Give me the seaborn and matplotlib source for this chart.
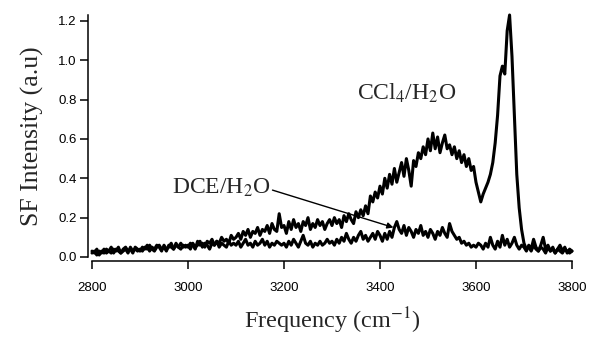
import numpy as np
import pandas as pd
import matplotlib
matplotlib.use("Agg")
import matplotlib.pyplot as plt
import seaborn as sns

# Frequency grid (cm-1), 5 cm-1 steps
freq = list(range(2800, 3801, 5))

# SF intensity, CCl4/H2O interface
ccl4 = [
    0.02, 0.03, 0.01, 0.03, 0.02, 0.04, 0.02, 0.03, 0.05, 0.02, 0.04, 0.03, 0.02, 0.04, 0.05, 0.03, 0.04, 0.02, 0.05, 0.04,
    0.03, 0.05, 0.04, 0.06, 0.03, 0.05, 0.04, 0.06, 0.05, 0.03, 0.06, 0.04, 0.05, 0.07, 0.04, 0.06, 0.05, 0.07, 0.05, 0.06,
    0.05, 0.07, 0.06, 0.04, 0.08, 0.06, 0.07, 0.05, 0.08, 0.07, 0.09, 0.06, 0.08, 0.07, 0.10, 0.08, 0.09, 0.07, 0.11, 0.09,
    0.10, 0.12, 0.09, 0.13, 0.11, 0.14, 0.10, 0.13, 0.12, 0.15, 0.11, 0.14, 0.13, 0.16, 0.12, 0.17, 0.14, 0.13, 0.22, 0.15,
    0.16, 0.12, 0.18, 0.14, 0.19, 0.15, 0.17, 0.13, 0.18, 0.16, 0.20, 0.14, 0.17, 0.15, 0.19, 0.16, 0.18, 0.14, 0.17, 0.19,
    0.16, 0.20, 0.17, 0.19, 0.15, 0.21, 0.18, 0.22, 0.19, 0.17, 0.23, 0.20, 0.24, 0.21, 0.26, 0.22, 0.31, 0.28, 0.33, 0.30,
    0.36, 0.32, 0.40, 0.35, 0.42, 0.37, 0.45, 0.38, 0.43, 0.48, 0.41, 0.50, 0.44, 0.36, 0.49, 0.46, 0.53, 0.50, 0.56, 0.52,
    0.60, 0.54, 0.63, 0.55, 0.61, 0.53, 0.58, 0.62, 0.55, 0.57, 0.52, 0.56, 0.50, 0.54, 0.48, 0.52, 0.46, 0.50, 0.44, 0.46,
    0.38, 0.33, 0.28, 0.32, 0.35, 0.38, 0.42, 0.48, 0.58, 0.72, 0.92, 0.97, 0.93, 1.15, 1.23, 1.02, 0.72, 0.42, 0.25, 0.14,
    0.07, 0.04, 0.05, 0.03, 0.06, 0.04, 0.03, 0.05, 0.04, 0.02, 0.05, 0.03, 0.04, 0.02, 0.04, 0.03, 0.02, 0.04, 0.03, 0.02,
    0.03,
]

# SF intensity, DCE/H2O interface
dce = [
    0.03, 0.02, 0.04, 0.01, 0.03, 0.02, 0.04, 0.03, 0.02, 0.04, 0.03, 0.05, 0.02, 0.03, 0.04, 0.02, 0.05, 0.03, 0.04, 0.03,
    0.04, 0.03, 0.05, 0.04, 0.06, 0.04, 0.03, 0.05, 0.06, 0.04, 0.05, 0.03, 0.06, 0.05, 0.04, 0.07, 0.05, 0.04, 0.06, 0.05,
    0.06, 0.04, 0.07, 0.05, 0.06, 0.08, 0.05, 0.07, 0.06, 0.04, 0.07, 0.06, 0.08, 0.05, 0.07, 0.06, 0.05, 0.08, 0.06, 0.07,
    0.06, 0.08, 0.05, 0.07, 0.09, 0.06, 0.07, 0.05, 0.08, 0.06, 0.07, 0.09, 0.06, 0.08, 0.05, 0.07, 0.06, 0.08, 0.07, 0.06,
    0.07, 0.05, 0.08, 0.06, 0.09, 0.07, 0.05, 0.08, 0.11, 0.07, 0.06, 0.08, 0.05, 0.07, 0.06, 0.08, 0.06, 0.07, 0.09, 0.07,
    0.08, 0.06, 0.09, 0.07, 0.10, 0.08, 0.12, 0.09, 0.07, 0.10, 0.08, 0.11, 0.13, 0.09, 0.11, 0.08, 0.10, 0.12, 0.09, 0.13,
    0.11, 0.08, 0.12, 0.09, 0.13, 0.10, 0.15, 0.18, 0.14, 0.12, 0.16, 0.11, 0.15, 0.13, 0.10, 0.14, 0.12, 0.16, 0.11, 0.13,
    0.10, 0.14, 0.12, 0.09, 0.13, 0.11, 0.15, 0.12, 0.10, 0.17, 0.13, 0.11, 0.09, 0.10, 0.07, 0.08, 0.06, 0.07, 0.05, 0.06,
    0.05, 0.07, 0.06, 0.04, 0.07, 0.05, 0.10, 0.06, 0.04, 0.08, 0.05, 0.11, 0.06, 0.09, 0.05, 0.07, 0.10, 0.06, 0.04, 0.06,
    0.05, 0.03, 0.06, 0.04, 0.09, 0.05, 0.03, 0.06, 0.10, 0.04, 0.06, 0.03, 0.05, 0.02, 0.04, 0.06, 0.03, 0.05, 0.02, 0.04,
    0.03,
]

x_ticks = [2800, 3000, 3200, 3400, 3600, 3800]
y_ticks = [0.0, 0.2, 0.4, 0.6, 0.8, 1.0, 1.2]

assert len(ccl4) == len(freq) and len(dce) == len(freq)

df = pd.DataFrame({
    "freq": freq * 2,
    "intensity": ccl4 + dce,
    "system": ["CCl4"] * len(freq) + ["DCE"] * len(freq),
})

sns.set_style("ticks")
plt.rcParams["font.family"] = ["Liberation Sans", "DejaVu Sans"]
plt.rcParams["mathtext.fontset"] = "stix"

fig = plt.figure(figsize=(5.89, 3.37), dpi=100)
ax = fig.add_axes([0.1562, 0.2374, 0.8149, 0.7181])

sns.lineplot(
    data=df, x="freq", y="intensity", units="system", estimator=None,
    color="black", linewidth=2.2, ax=ax, legend=False,
)
for line in ax.lines:
    line.set_clip_on(False)

ax.set_xlim(2800, 3800)
ax.set_ylim(0, 1.23)
ax.set_xticks(x_ticks)
ax.set_yticks(y_ticks)
ax.set_xticklabels([str(t) for t in x_ticks])
ax.set_yticklabels([f"{t:.1f}" for t in y_ticks])

for side in ("top", "right"):
    ax.spines[side].set_visible(False)
ax.spines["left"].set_position(("outward", 3))
ax.spines["bottom"].set_position(("outward", 3))
for side in ("left", "bottom"):
    ax.spines[side].set_linewidth(1.1)
    ax.spines[side].set_color("black")
ax.tick_params(axis="both", direction="out", length=6, width=1.1,
               color="black", labelsize=9.5, labelcolor="black")
ax.tick_params(axis="x", pad=9)
ax.tick_params(axis="y", pad=2)

serif = ["Liberation Serif", "DejaVu Serif"]
ax.set_xlabel("Frequency (cm$^{-1}$)", fontsize=17.5, family=serif, labelpad=8)
ax.set_ylabel("SF Intensity (a.u)", fontsize=18.5, family=serif, labelpad=10)

ax.text(3455, 0.83, "CCl$_4$/H$_2$O", fontsize=17, family=serif,
        ha="center", va="center")
ax.text(3172, 0.35, "DCE/H$_2$O", fontsize=17, family=serif,
        ha="right", va="center")
ax.annotate("", xy=(3428, 0.15), xytext=(3176, 0.34),
            arrowprops=dict(arrowstyle="-|>", color="black", lw=1.0,
                            mutation_scale=9, shrinkA=0, shrinkB=0))

fig.savefig("out.png", dpi=100)
